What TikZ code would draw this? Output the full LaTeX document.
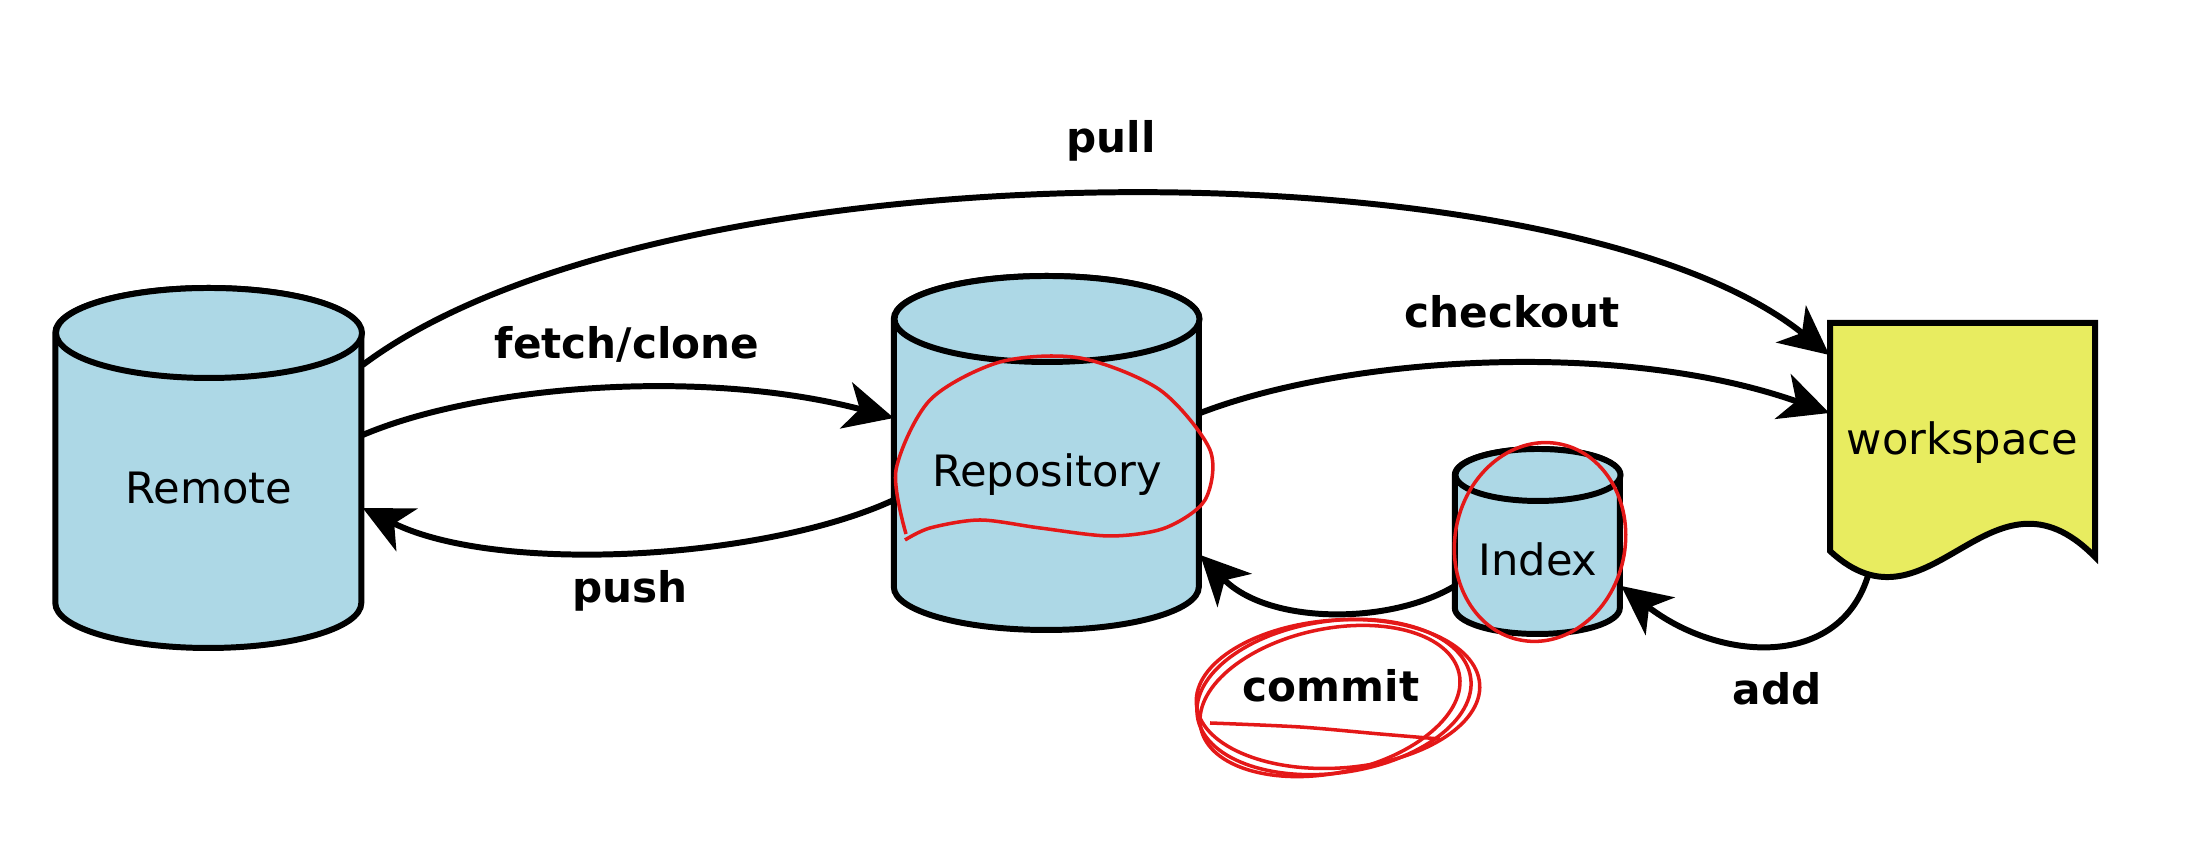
\documentclass[tikz,border=0pt]{standalone}
\usepackage{fontspec}
\setmainfont{DejaVu Sans}
\usetikzlibrary{arrows.meta,backgrounds}
\definecolor{canblue}{RGB}{173,216,230}
\definecolor{sheetyellow}{RGB}{232,236,96}
\definecolor{penred}{RGB}{228,24,24}
\begin{document}
\begin{tikzpicture}[
  store/.style={font=\fontsize{12.3}{14}\selectfont,inner sep=0pt},
  cyl/.style={draw=black,fill=canblue,line width=1.7pt},
  sheet/.style={draw=black,fill=sheetyellow,line width=1.7pt},
  flow/.style={draw=black,line width=1.7pt,-{Stealth[length=14pt,width=13.5pt,inset=4pt]}},
  tag/.style={font=\fontsize{12}{14}\selectfont\bfseries,inner sep=0pt},
  scribble/.style={draw=penred,line width=1pt}
]
  \useasboundingbox (0,0) rectangle (21.86,8.44);

  \node[store,minimum width=3.06cm] (remote) at (2.09,3.56) {Remote};
  \node[store,minimum width=3.05cm] (repo) at (10.47,3.69) {Repository};
  \node[store,minimum width=1.65cm] (index) at (15.38,2.85) {Index};
  \node[store,minimum width=2.65cm] (ws) at (19.625,4.01) {workspace};

  \begin{scope}[on background layer]
    \foreach \n/\rx/\ry/\up/\dn in {remote/1.53/0.45/1.55/1.15, repo/1.525/0.43/1.56/1.12, index/0.825/0.26/0.84/0.49} {
      \filldraw[cyl] (\n.west) ++(0,\up) -- ++(0,-\up-\dn)
        arc[start angle=180,end angle=360,x radius=\rx,y radius=\ry]
        -- ++(0,\up+\dn)
        arc[start angle=0,end angle=180,x radius=\rx,y radius=\ry] -- cycle;
      \filldraw[cyl] (\n.center) ++(0,\up) ellipse[x radius=\rx,y radius=\ry];
    }
    \filldraw[sheet] (18.30,5.21) -- (20.95,5.21) -- (20.95,2.87)
      .. controls (19.90,3.94) and (19.30,2.00) .. (18.30,2.93) -- cycle;
  \end{scope}

  \node[tag] (lpull) at (11.11,7.03) {pull};
  \node[tag] (lfetch) at (6.27,5.00) {fetch/clone};
  \node[tag] (lcheckout) at (15.12,5.32) {checkout};
  \node[tag] (lpush) at (6.30,2.53) {push};
  \node[tag] (lcommit) at (13.31,1.58) {commit};
  \node[tag] (ladd) at (17.77,1.55) {add};

  \draw[flow] ([yshift=12.3mm]remote.east) .. controls +(3.00,2.25) and +(-2.66,2.15) .. ([yshift=8.8mm]ws.west);
  \draw[flow] ([yshift=5.3mm]remote.east) .. controls +(1.18,0.50) and +(-1.90,0.50) .. ([yshift=5.7mm]repo.west);
  \draw[flow] ([yshift=-2.5mm]repo.west) .. controls +(-1.30,-0.60) and +(1.35,-0.67) .. ([yshift=-2mm]remote.east);
  \draw[flow] ([yshift=6.2mm]repo.east) .. controls +(1.51,0.58) and +(-2.06,0.73) .. ([yshift=3mm]ws.west);
  \draw[flow] ([yshift=-2.7mm]index.west) .. controls +(-0.65,-0.39) and +(0.68,-0.70) .. ([yshift=-8mm]repo.east);
  \draw[flow] ([xshift=-9.4mm,yshift=-13.1mm]ws.center) .. controls +(-0.28,-0.96) and +(0.98,-0.76) .. ([yshift=-2.7mm]index.east);

  % pen marks
  \draw[scribble] plot[smooth] coordinates {(9.06,3.10) (8.96,3.74) (9.30,4.44) (10.00,4.82) (10.80,4.86) (11.60,4.54) (12.10,3.94) (12.05,3.44) (11.65,3.16) (11.10,3.08) (10.40,3.16) (9.80,3.24) (9.30,3.16) (9.05,3.04)};
  \draw[scribble,rotate around={-12:(15.40,3.02)}] (15.40,3.02) ellipse[x radius=0.85,y radius=1.0];
  \draw[scribble,rotate around={8:(13.34,1.47)}] (13.34,1.47) ellipse[x radius=1.38,y radius=0.76];
  \draw[scribble,rotate around={12:(13.30,1.43)}] (13.30,1.43) ellipse[x radius=1.32,y radius=0.72];
  \draw[scribble,rotate around={4:(13.38,1.50)}] (13.38,1.50) ellipse[x radius=1.42,y radius=0.74];
  \draw[scribble] plot[smooth] coordinates {(12.10,1.21) (13.00,1.17) (13.80,1.10) (14.40,1.05)};
\end{tikzpicture}
\end{document}
